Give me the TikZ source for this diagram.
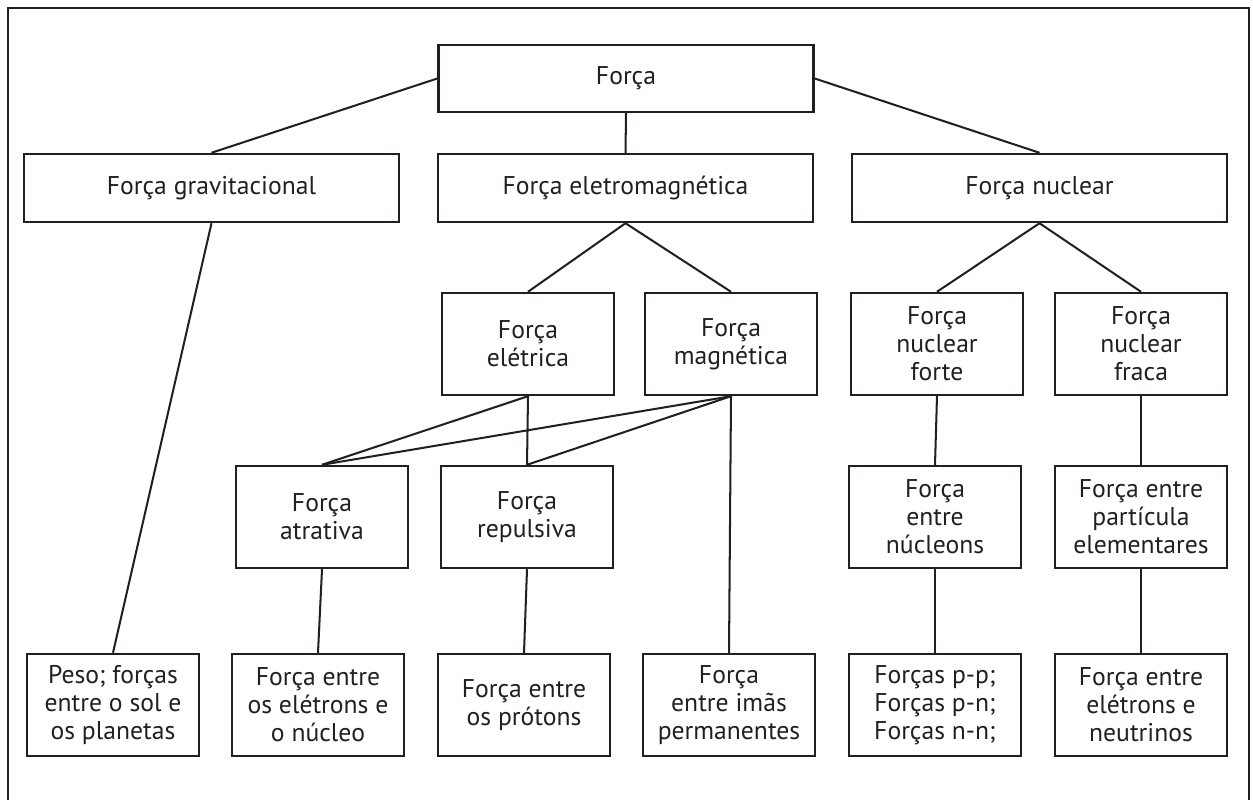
\documentclass[tikz,border=0pt]{standalone}
\usepackage{fontspec}
\setmainfont{PT Sans}
\definecolor{tinta}{HTML}{231F20}
\tikzset{
  caixa/.style={draw=tinta, text=tinta, line width=1.4pt, align=center,
    inner sep=0pt, minimum width=3.44cm, minimum height=2.04cm},
  caixalarga/.style={caixa, minimum width=7.5cm, minimum height=1.36cm},
  linha/.style={draw=tinta, line width=1.15pt},
}
\begin{document}
\begin{tikzpicture}[x=0.02cm, y=-0.02cm, font=\fontsize{14.6}{16}\selectfont]
  \useasboundingbox (0,0) rectangle (1253,800);
  \draw[tinta, line width=1.15pt] (8,800) -- (8,8) -- (1249,8) -- (1249,800);
  %--- Nivel 1
  \node[caixalarga, minimum height=1.34cm] (forca) at (626,78.5) {Força};
  %--- Nivel 2
  \node[caixalarga] (grav) at (211.5,188) {Força gravitacional};
  \node[caixalarga] (eletromag) at (625.5,188) {Força eletromagnética};
  \node[caixalarga] (nuclear) at (1039.5,188) {Força nuclear};
  %--- Nivel 3
  \node[caixa] (eletrica) at (528,344) {Força\\elétrica};
  \node[caixa] (magnetica) at (731,344) {Força\\magnética};
  \node[caixa] (forte) at (937,344) {Força\\nuclear\\forte};
  \node[caixa] (fraca) at (1141,344) {Força\\nuclear\\fraca};
  %--- Nivel 4
  \node[caixa] (atrativa) at (322,517) {Força\\atrativa};
  \node[caixa] (repulsiva) at (527,517) {Força\\repulsiva};
  \node[caixa] (nucleons) at (935,517) {Força\\entre\\núcleons};
  \node[caixa] (particula) at (1141,517) {Força entre\\partícula\\elementares};
  %--- Nivel 5
  \node[caixa] (peso) at (113,705) {Peso; forças\\entre o sol e\\os planetas};
  \node[caixa] (eletrons) at (318,705) {Força entre\\os elétrons e\\o núcleo};
  \node[caixa] (protons) at (524,705) {Força entre\\os prótons};
  \node[caixa] (imas) at (729,705) {Força\\entre imãs\\permanentes};
  \node[caixa] (pp) at (935,705) {Forças p-p;\\Forças p-n;\\Forças n-n;};
  \node[caixa] (neutrinos) at (1141,705) {Força entre\\elétrons e\\neutrinos};
  %--- Ligacoes
  \draw[linha] (forca.west) -- (grav.north);
  \draw[linha] (forca.south) -- (eletromag.north);
  \draw[linha] (forca.east) -- (nuclear.north);
  \draw[linha] (grav.south) -- (peso.north);
  \draw[linha] (eletromag.south) -- (eletrica.north);
  \draw[linha] (eletromag.south) -- (magnetica.north);
  \draw[linha] (nuclear.south) -- (forte.north);
  \draw[linha] (nuclear.south) -- (fraca.north);
  \draw[linha] (eletrica.south) -- (atrativa.north);
  \draw[linha] (eletrica.south) -- (repulsiva.north);
  \draw[linha] (magnetica.south) -- (atrativa.north);
  \draw[linha] (magnetica.south) -- (repulsiva.north);
  \draw[linha] (magnetica.south) -- (imas.north);
  \draw[linha] (atrativa.south) -- (eletrons.north);
  \draw[linha] (repulsiva.south) -- (protons.north);
  \draw[linha] (forte.south) -- (nucleons.north);
  \draw[linha] (nucleons.south) -- (pp.north);
  \draw[linha] (fraca.south) -- (particula.north);
  \draw[linha] (particula.south) -- (neutrinos.north);
\end{tikzpicture}
\end{document}
